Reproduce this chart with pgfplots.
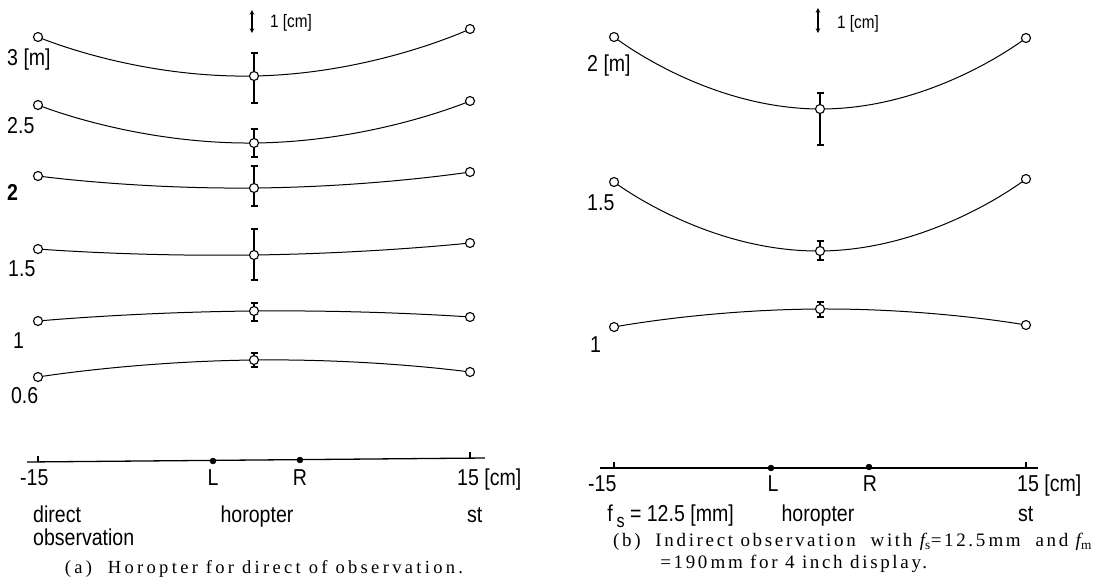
\documentclass[border=0pt]{standalone}
\usepackage{fontspec}
\setmainfont[FakeStretch=0.85]{Liberation Sans}
\newfontfamily\capfonta[LetterSpace=18]{Liberation Serif}
\newfontfamily\capfontb[LetterSpace=14]{Liberation Serif}
\usepackage{pgfplots}
\pgfplotsset{compat=1.18}

% label fonts
\newcommand{\lab}{\fontsize{23bp}{27bp}\selectfont}
\newcommand{\sml}{\fontsize{18bp}{21bp}\selectfont}
\newcommand{\capa}{\capfonta\fontsize{18.5bp}{22bp}\selectfont}
\newcommand{\capb}{\capfontb\fontsize{19bp}{22bp}\selectfont}

\tikzset{txt/.style={inner sep=0pt, font=\lab}}
\pgfplotsset{
  horo/.style={axis lines=none, clip=false, enlargelimits=false,
    y dir=reverse, y=1bp, ymin=0, ymax=579, anchor=south west},
  curve/.style={black, smooth, tension=1, line width=1bp, mark=*, mark size=4.5bp,
    mark options={fill=white, line width=1.1bp}},
  ebar/.style={black, only marks, mark=none, forget plot,
    error bars/.cd, y dir=both, y explicit,
    error bar style={line width=1.4bp},
    error mark options={black, rotate=90, mark size=3.5bp, line width=1.2bp}},
  baseln/.style={black, line width=1.3bp, mark=none},
}

\begin{document}
\begin{tikzpicture}
\useasboundingbox (0,0) rectangle (1120bp,579bp);

% ---------- (a) direct observation ----------
\begin{axis}[horo, at={(2bp,0bp)}, x=14.4bp, xmin=-17.5, xmax=18.5]
% error bars at the horopter point
\addplot[ebar] coordinates {(0,76) += (0,27) -= (0,23)};
\addplot[ebar] coordinates {(0,143) += (0,14) -= (0,14)};
\addplot[ebar] coordinates {(0,188) += (0,18) -= (0,22)};
\addplot[ebar] coordinates {(0,255) += (0,25) -= (0,26)};
\addplot[ebar] coordinates {(0,311) += (0,10) -= (0,8)};
\addplot[ebar] coordinates {(0,360) += (0,7) -= (0,7)};
% horopter curves (3, 2.5, 2, 1.5, 1, 0.6 m)
\addplot[curve] coordinates {(-15,37) (0,76) (15,29)};
\addplot[curve] coordinates {(-15,105) (0,143) (15,101)};
\addplot[curve] coordinates {(-15,176) (0,188) (15,172)};
\addplot[curve] coordinates {(-15,249) (0,255) (15,243)};
\addplot[curve] coordinates {(-15,321) (0,311) (15,317)};
\addplot[curve] coordinates {(-15,377) (0,360) (15,372)};
% base line with ticks and eyes
\addplot[baseln] coordinates {(-15.76,462) (16.04,458)};
\addplot[baseln] coordinates {(-15,462) (-15,456)};
\addplot[baseln] coordinates {(15,458) (15,452)};
\addplot[black, only marks, mark=*, mark size=3bp] coordinates {(-2.85,461) (3.19,460)};
% scale arrow
\addplot[black, line width=1.1bp, <->, >=stealth] coordinates {(-0.14,10) (-0.14,33)};
\node[txt, font=\sml, anchor=base west] at (axis cs:1.11,27) {1 [cm]};

\node[txt, anchor=base west] at (axis cs:-17.15,65) {3 [m]};
\node[txt, anchor=base west] at (axis cs:-17.15,133) {2.5};
\node[txt, anchor=base west] at (axis cs:-17.15,200) {\bfseries 2};
\node[txt, anchor=base west] at (axis cs:-17.08,276) {1.5};
\node[txt, anchor=base west] at (axis cs:-16.74,348) {1};
\node[txt, anchor=base west] at (axis cs:-16.88,403) {0.6};

\node[txt, anchor=base west] at (axis cs:-16.25,485) {-15};
\node[txt, anchor=base] at (axis cs:-2.85,485) {L};
\node[txt, anchor=base] at (axis cs:3.19,485) {R};
\node[txt, anchor=base west] at (axis cs:14.1,485) {15 [cm]};
\node[txt, anchor=base west] at (axis cs:-15.35,522) {direct};
\node[txt, anchor=base west] at (axis cs:-15.35,545) {observation};
\node[txt, anchor=base] at (axis cs:0.21,522) {horopter};
\node[txt, anchor=base west] at (axis cs:14.79,522) {st};
\node[txt, font=\capa, anchor=base] at (axis cs:0.69,573) {(a)\ \ Horopter for direct of observation.};
\end{axis}

% ---------- (b) indirect observation ----------
\begin{axis}[horo, at={(586.6bp,0bp)}, x=13.73bp, xmin=-17, xmax=19]
\addplot[ebar] coordinates {(0,109) += (0,36) -= (0,16)};
\addplot[ebar] coordinates {(0,251) += (0,9) -= (0,10)};
\addplot[ebar] coordinates {(0,309) += (0,8) -= (0,7)};
% horopter curves (2, 1.5, 1 m)
\addplot[curve] coordinates {(-15,37) (0,109) (15,38)};
\addplot[curve] coordinates {(-15,182) (0,251) (15,179)};
\addplot[curve] coordinates {(-15,327) (0,309) (15,325)};
% base line
\addplot[baseln] coordinates {(-16.0,468) (15.9,468)};
\addplot[baseln] coordinates {(-15,468) (-15,462)};
\addplot[baseln] coordinates {(15,468) (15,462)};
\addplot[black, only marks, mark=*, mark size=3bp] coordinates {(-3.57,468) (3.57,467)};
% scale arrow
\addplot[black, line width=1.1bp, <->, >=stealth] coordinates {(-0.15,8) (-0.15,33)};
\node[txt, font=\sml, anchor=base west] at (axis cs:1.24,28) {1 [cm]};

\node[txt, anchor=base west] at (axis cs:-16.97,71) {2 [m]};
\node[txt, anchor=base west] at (axis cs:-16.97,210) {1.5};
\node[txt, anchor=base west] at (axis cs:-16.75,352) {1};

\node[txt, anchor=base west] at (axis cs:-16.9,491) {-15};
\node[txt, anchor=base] at (axis cs:-3.42,491) {L};
\node[txt, anchor=base] at (axis cs:3.64,491) {R};
\node[txt, anchor=base west] at (axis cs:14.35,491) {15 [cm]};
\node[txt, anchor=base west] at (axis cs:-15.51,521) {f\,\raisebox{-0.3em}{\fontsize{19bp}{19bp}\selectfont s} = 12.5 [mm]};
\node[txt, anchor=base] at (axis cs:-0.15,521) {horopter};
\node[txt, anchor=base west] at (axis cs:14.42,521) {st};
\node[txt, font=\capb, anchor=base west] at (axis cs:-15.08,546) {(b)\ \ Indirect observation\ \ with {\itshape f}\textsubscript{s}=12.5\,mm\ \ and {\itshape f}\textsubscript{m}};
\node[txt, font=\capb, anchor=base west] at (axis cs:-11.65,568) {=190\,mm for 4 inch display.};
\end{axis}
\end{tikzpicture}
\end{document}
